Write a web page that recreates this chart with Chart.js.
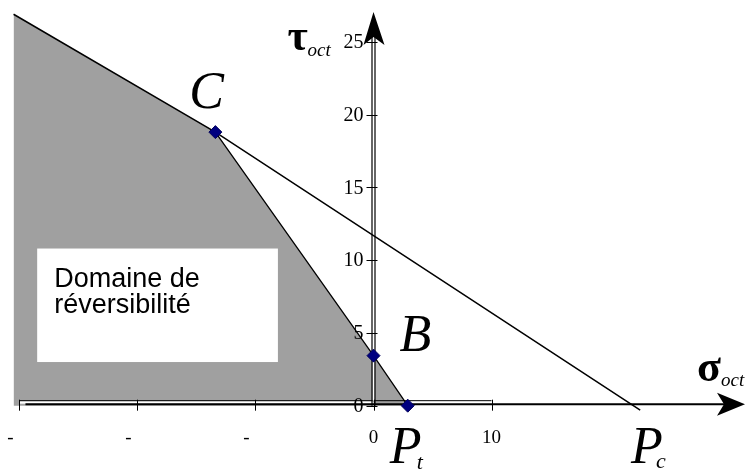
<!DOCTYPE html>
<html>
<head>
<meta charset="utf-8">
<script src="https://cdn.jsdelivr.net/npm/chart.js@4"></script>
<style>
  body { margin: 0; background: #fff; }
  #wrap { width: 747px; height: 470px; }
</style>
</head>
<body>
<div id="wrap"><canvas id="chart" width="747" height="470"></canvas></div>
<script>
// ---------------- DATA ----------------
// Characteristic points C, B, Pt
const pointNames = ["C", "B", "Pt"];
const pointX = [-13.4, 0, 2.9];
const pointY = [18.8, 3.44, 0];

// Criterion line: left edge -> C -> Pc (runs a bit under the axis)
const critX = [-30.5, -13.4, 22.6];
const critY = [26.9, 18.8, -0.3];

// Line C -> B -> Pt
const tensX = [-13.4, 0, 2.9];
const tensY = [18.8, 3.44, 0];

// Reversibility domain, filled down to zero
const domainX = [-30.5, -13.4, 0, 2.9];
const domainY = [26.9, 18.8, 3.44, 0];

// Pc on the sigma axis
const pcValue = 22;

// Axis ticks
const xTicks = [-30, -20, -10, 0, 10];
const xTickLabels = ["-", "-", "-", "0", "10"];
const yTicks = [0, 5, 10, 15, 20, 25];

// Box for the domain caption (data units)
const boxX = [-28.5, -8.1];
const boxY = [10.8, 3.0];
const boxLines = ["Domaine de", "réversibilité"];

const toXY = (xs, ys) => xs.map((x, i) => ({ x: x, y: ys[i] }));

// ---------------- AXES + LABELS ----------------
const SERIF = "'Liberation Serif', 'Times New Roman', serif";

function drawAxes(chart) {
    const ctx = chart.ctx;
    const sx = chart.scales.x, sy = chart.scales.y;
    const x0 = sx.getPixelForValue(0);
    const y0 = sy.getPixelForValue(0);
    const top = chart.chartArea.top;
    const right = chart.chartArea.right;
    const xa = sx.getPixelForValue(xTicks[0]);
    const xb = sx.getPixelForValue(xTicks[xTicks.length - 1]);

    ctx.save();

    // caption box
    const bl = sx.getPixelForValue(boxX[0]), br = sx.getPixelForValue(boxX[1]);
    const bt = sy.getPixelForValue(boxY[0]), bb = sy.getPixelForValue(boxY[1]);
    ctx.fillStyle = "#fff";
    ctx.fillRect(bl, bt, br - bl, bb - bt);
    ctx.fillStyle = "#000";
    ctx.font = "27px 'Liberation Sans', Arial, sans-serif";
    ctx.textAlign = "left";
    ctx.textBaseline = "alphabetic";
    ctx.fillText(boxLines[0], bl + 17, bt + 38);
    ctx.fillText(boxLines[1], bl + 17, bt + 64);

    // ---- sigma axis (double line + arrow) ----
    ctx.fillStyle = "#fff";
    ctx.fillRect(xa, y0 - 4.5, x0 - xa, 2.5);
    ctx.strokeStyle = "#000";
    ctx.lineWidth = 1;
    ctx.beginPath();
    ctx.moveTo(xa, y0 - 5);
    ctx.lineTo(xb, y0 - 5);
    ctx.stroke();
    ctx.lineWidth = 2;
    ctx.beginPath();
    ctx.moveTo(xa + 6, y0 - 1.5);
    ctx.lineTo(right - 20, y0 - 1.5);
    ctx.stroke();
    ctx.fillStyle = "#000";
    ctx.beginPath();
    ctx.moveTo(right - 2, y0 - 1.5);
    ctx.lineTo(right - 30, y0 - 13);
    ctx.lineTo(right - 23, y0 - 1.5);
    ctx.lineTo(right - 30, y0 + 10);
    ctx.closePath();
    ctx.fill();

    // ---- tau axis (double line + arrow) ----
    ctx.fillStyle = "#fff";
    ctx.fillRect(x0 - 1, top + 30, 2, y0 - 5 - top - 30);
    ctx.strokeStyle = "#000";
    ctx.lineWidth = 1.2;
    ctx.beginPath();
    ctx.moveTo(x0 - 1.5, y0);
    ctx.lineTo(x0 - 1.5, top + 30);
    ctx.moveTo(x0 + 1.5, y0);
    ctx.lineTo(x0 + 1.5, top + 30);
    ctx.stroke();
    ctx.fillStyle = "#000";
    ctx.beginPath();
    ctx.moveTo(x0, top + 12);
    ctx.lineTo(x0 + 11, top + 45);
    ctx.lineTo(x0, top + 37);
    ctx.lineTo(x0 - 10, top + 45);
    ctx.closePath();
    ctx.fill();

    // ---- ticks ----
    ctx.lineWidth = 1;
    ctx.beginPath();
    xTicks.forEach(v => {
        const px = Math.round(sx.getPixelForValue(v)) + 0.5;
        ctx.moveTo(px, y0 - 6);
        ctx.lineTo(px, y0 + 5);
    });
    yTicks.forEach(v => {
        const py = Math.round(sy.getPixelForValue(v)) + 0.5;
        ctx.moveTo(x0 - 7, py);
        ctx.lineTo(x0 + 4, py);
    });
    ctx.stroke();

    ctx.fillStyle = "#000";
    ctx.font = "20px " + SERIF;
    ctx.textAlign = "right";
    ctx.textBaseline = "middle";
    yTicks.forEach(v => {
        ctx.fillText(String(v), x0 - 10, sy.getPixelForValue(v) + 1);
    });

    ctx.font = "19px " + SERIF;
    ctx.textAlign = "center";
    xTicks.forEach((v, i) => {
        const lab = xTickLabels[i];
        const shift = lab === "-" ? -9 : 0;
        ctx.fillText(lab, sx.getPixelForValue(v) + shift, y0 + 32);
    });

    ctx.restore();
}

function drawNames(chart) {
    const ctx = chart.ctx;
    const sx = chart.scales.x, sy = chart.scales.y;
    const x0 = sx.getPixelForValue(0);
    const y0 = sy.getPixelForValue(0);
    const right = chart.chartArea.right;
    const top = chart.chartArea.top;

    const px = i => sx.getPixelForValue(pointX[i]);
    const py = i => sy.getPixelForValue(pointY[i]);
    const pc = sx.getPixelForValue(pcValue);

    ctx.save();
    ctx.fillStyle = "#000";
    ctx.textAlign = "left";
    ctx.textBaseline = "alphabetic";

    // point names
    ctx.font = "italic 52px " + SERIF;
    ctx.fillText("C", px(0) - 26, py(0) - 24);
    ctx.fillText("B", px(1) + 26, py(1) - 5);
    ctx.fillText("P", px(2) - 18, y0 + 57);
    ctx.fillText("P", pc - 2, y0 + 57);
    ctx.font = "italic 22px " + SERIF;
    ctx.fillText("t", px(2) + 9, y0 + 63);
    ctx.fillText("c", pc + 23, y0 + 62);

    // axis titles
    ctx.font = "bold 44px " + SERIF;
    ctx.fillText("τ", x0 - 86, top + 50);
    ctx.fillText("σ", right - 50, y0 - 25);
    ctx.font = "italic 19px " + SERIF;
    ctx.fillText("oct", x0 - 66, top + 56);
    ctx.fillText("oct", right - 26, y0 - 20);
    ctx.restore();
}

const octPlugin = {
    id: "octAxes",
    afterDatasetDraw(chart, args) {
        if (args.meta.label === "domaine") drawAxes(chart);
    },
    afterDatasetsDraw(chart) {
        drawNames(chart);
    }
};

// ---------------- CHART ----------------
new Chart(document.getElementById("chart"), {
    type: "scatter",
    data: {
        datasets: [
            {
                label: "points",
                data: toXY(pointX, pointY),
                pointStyle: "rectRot",
                pointRadius: 6.5,
                backgroundColor: "#000080",
                borderColor: "#00005a",
                borderWidth: 1,
                showLine: false,
                order: 0
            },
            {
                label: "critere",
                data: toXY(critX, critY),
                showLine: true,
                borderColor: "#000",
                borderWidth: 1.5,
                pointRadius: 0,
                order: 1
            },
            {
                label: "traction",
                data: toXY(tensX, tensY),
                showLine: true,
                borderColor: "#000",
                borderWidth: 1.3,
                pointRadius: 0,
                order: 1
            },
            {
                label: "domaine",
                data: toXY(domainX, domainY),
                showLine: true,
                fill: "origin",
                backgroundColor: "#a0a0a0",
                borderWidth: 0,
                borderColor: "rgba(0,0,0,0)",
                pointRadius: 0,
                order: 2
            }
        ]
    },
    options: {
        responsive: false,
        animation: false,
        events: [],
        layout: { padding: 0, autoPadding: false },
        plugins: {
            legend: { display: false },
            tooltip: { enabled: false }
        },
        scales: {
            x: { type: "linear", display: false, min: -31.65, max: 31.65 },
            y: { type: "linear", display: false, min: -4.42, max: 27.88 }
        }
    },
    plugins: [octPlugin]
});
</script>
</body>
</html>
